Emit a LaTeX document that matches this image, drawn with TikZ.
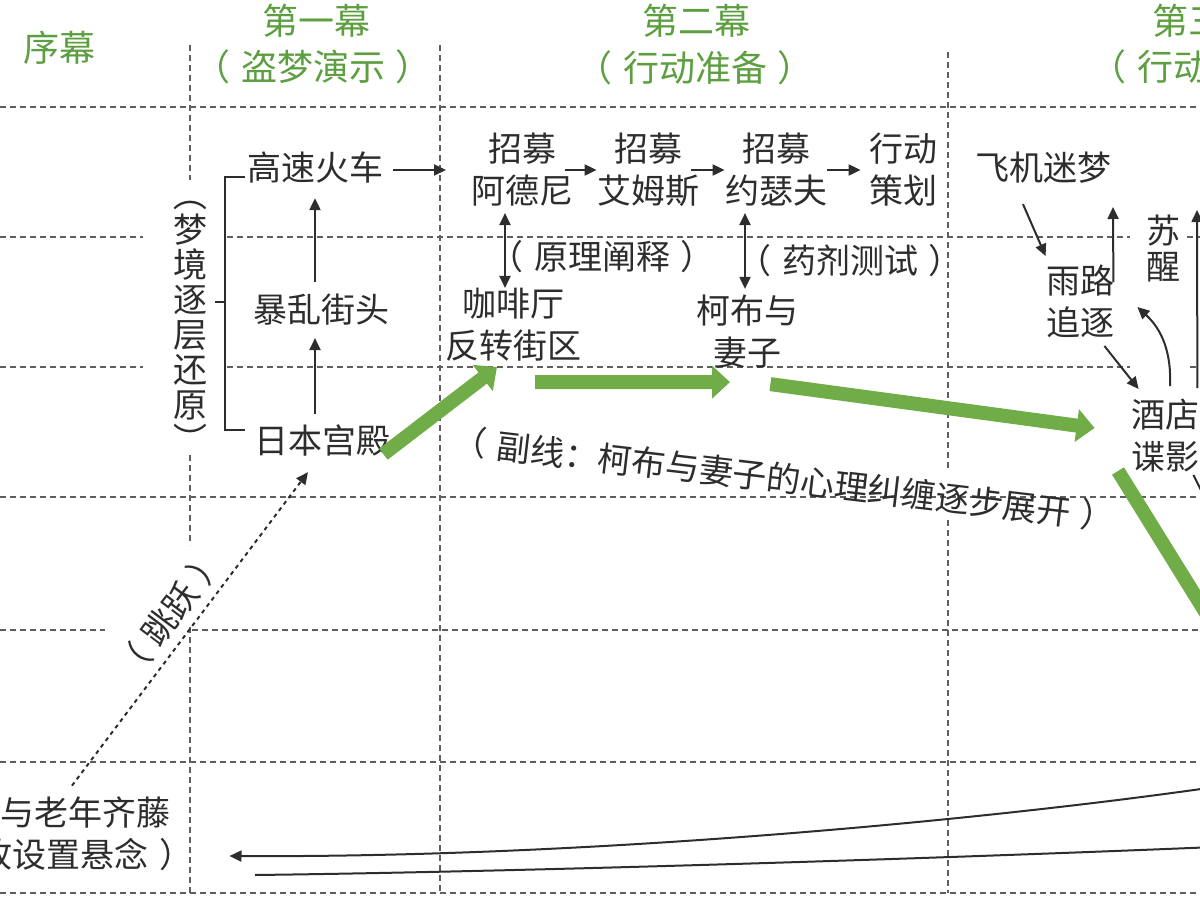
\documentclass[tikz,border=0pt]{standalone}
\usepackage{fontspec}
\usepackage{graphicx}
\setmainfont{Noto Sans CJK SC}
\usetikzlibrary{arrows.meta}
\definecolor{actgreen}{RGB}{92,158,64}
\definecolor{plotgreen}{RGB}{112,172,72}
\definecolor{inkgray}{RGB}{45,45,45}
\definecolor{gridgray}{RGB}{95,95,95}
\newcommand{\openparen}{（\hspace{0.3em}}
\newcommand{\closeparen}{\hspace{0.3em}）}
\newcommand{\vopen}{\rotatebox[origin=c]{-90}{（}}
\newcommand{\vclose}{\rotatebox[origin=c]{-90}{）}}
\tikzset{
  scene/.style={align=center, inner sep=0pt, text=inkgray, font=\fontsize{17}{21}\selectfont},
  vtext/.style={scene, font=\fontsize{17}{17.5}\selectfont},
  act/.style={align=center, inner sep=0pt, text=actgreen, font=\fontsize{18}{22}\selectfont},
  gridline/.style={gridgray, line width=0.8pt, dash pattern=on 3pt off 2pt},
  link/.style={inkgray, line width=1pt, -{Triangle[length=6pt,width=5.5pt]}},
  dlink/.style={link, {Triangle[length=6pt,width=5.5pt]}-{Triangle[length=6pt,width=5.5pt]}},
  jump/.style={link, dash pattern=on 2pt off 2pt},
  mainline/.style={plotgreen, line width=7pt, -{Triangle[length=9pt,width=16pt]}},
}
\begin{document}
\begin{tikzpicture}[x=0.5pt, y=-0.5pt]
  \useasboundingbox (0,0) rectangle (1200,900);
  \clip (0,0) rectangle (1200,900);
  \foreach \y in {107,497,762,893}
    \draw[gridline] (0,\y) -- (1200,\y);
  \draw[gridline] (0,237) -- (143,237) (227,237) -- (1130,237) (1187,237) -- (1200,237);
  \draw[gridline] (0,367) -- (143,367) (227,367) -- (1130,367) (1190,367) -- (1200,367);
  \draw[gridline] (0,630) -- (105,630) (192,630) -- (1200,630);
  \draw[gridline] (190,45) -- (190,180) (190,455) -- (190,545) (190,627) -- (190,893);
  \draw[gridline] (440,45) -- (440,893);
  \draw[gridline] (948,52) -- (948,470) (948,520) -- (948,893);
  \path
    (60,48) node[act] (prologue) {序幕}
    (316,21) node[act] (actone) {第一幕}
    (313,67) node[act] (actonesub) {\openparen 盗梦演示\closeparen}
    (696,21) node[act] (acttwo) {第二幕}
    (695,68) node[act] (acttwosub) {\openparen 行动准备\closeparen}
    (1152,21) node[act, anchor=west] (actthree) {第三幕}
    (1090,67) node[act, anchor=west] (actthreesub) {\openparen 行动};
  \path
    (315,168) node[scene] (train) {高速火车}
    (321,310) node[scene] (riot) {暴乱街头}
    (322,440) node[scene] (palace) {日本宫殿}
    (522,170) node[scene] (ariadne) {招募\\阿德尼}
    (648,170) node[scene] (eames) {招募\\艾姆斯}
    (776,170) node[scene] (yusuf) {招募\\约瑟夫}
    (903,170) node[scene] (plan) {行动\\策划}
    (513,325) node[scene] (cafe) {咖啡厅\\反转街区}
    (747,332) node[scene] (mal) {柯布与\\妻子}
    (1043,168) node[scene] (plane) {飞机迷梦}
    (1080,301) node[scene] (chase) {雨路\\追逐}
    (1163,248) node[vtext, font=\fontsize{17}{18}\selectfont] (wake) {苏\\醒}
    (1165,436) node[scene] (hotel) {酒店\\谍影}
    (86,834) node[scene] (reunion) {与老年齐藤\\故设置悬念\closeparen}
    (190,317) node[vtext] (lbldream) {\vopen\\梦\\境\\逐\\层\\还\\原\\\vclose}
    (602,257) node[scene] (lbltheory) {\openparen 原理阐释\closeparen}
    (850,261) node[scene] (lbltest) {\openparen 药剂测试\closeparen}
    (784,479) node[scene, rotate=-6.7] (lblsub) {\openparen 副线：柯布与妻子的心理纠缠逐步展开\closeparen};
  \coordinate (toacttwo) at (446,170);
  \coordinate (wakeup) at (1113,207);
  \coordinate (wakeout) at (1197,210);
  \coordinate (kickout) at (1212,512);
  \coordinate (greenout) at (1240,668);
  \coordinate (backin) at (1215,787);
  \coordinate (lowin) at (1215,847);
  \coordinate (lowend) at (255,875);
  \draw[inkgray, line width=1pt] ([shift={(-2,9)}]train.west) -| (225,302) |- ([shift={(-9,-10)}]palace.west)
    (215,302) -- (225,302);
  \begin{scope}[link]
    \draw ([shift={(10,2)}]train.east) -- (toacttwo);
    \draw[shorten <=6pt, shorten >=7pt] (riot.north -| train.south) -- (train.south);
    \draw[shorten <=5pt, shorten >=6pt] (palace.north -| train.south) -- (riot.south -| train.south);
    \draw[shorten <=-4pt] (ariadne) -- (eames);
    \draw[shorten <=-4pt] (eames) -- (yusuf);
    \draw[shorten >=4pt] (yusuf) -- (plan);
    \draw[dlink, shorten <=3pt] ([shift={(-17,0)}]ariadne.south) -- ([shift={(-17,0)}]ariadne.south |- cafe.north);
    \draw[dlink, shorten <=3pt, shorten >=3pt] ([shift={(-31,0)}]yusuf.south) -- ([shift={(-31,0)}]yusuf.south |- mal.north);
    \draw ([shift={(-20,20)}]plane.south) -- ([shift={(0,-8)}]chase.north west);
    \draw ([shift={(-1,-19)}]chase.east) -- (wakeup);
    \draw ([shift={(-10,8)}]chase.south east) -- ([shift={(8,-10)}]hotel.north west);
    \draw ([shift={(5,-13)}]hotel.north) to[bend right=25] ([shift={(23,6)}]chase.east);
    \draw ([shift={(-2,-11)}]hotel.north east) -- (wakeout);
    \draw[-] ([shift={(-6,2)}]hotel.south east) -- (kickout);
    \draw[jump] ([shift={(-14,-11)}]reunion.north) -- node[scene, sloped, above=4pt] (lbljump) {\openparen 跳跃\closeparen} ([shift={(-14,16)}]palace.south);
    \draw (backin) .. controls (1000,818) and (600,858) .. ([shift={(36,22)}]reunion.east);
    \draw[-] (lowin) .. controls (900,860) and (500,872) .. (lowend);
  \end{scope}
  \begin{scope}[mainline]
    \draw ([shift={(-7,-2)}]palace.south east) -- ([shift={(-16,5)}]cafe.south);
    \draw ([shift={(22,20)}]cafe.south) -- ([shift={(-17,13)}]mal.south);
    \draw ([shift={(-28,15)}]mal.south east) -- ([shift={(-36,-8)}]hotel.west);
    \draw[-] ([shift={(-47,-2)}]hotel.south) -- (greenout);
  \end{scope}
\end{tikzpicture}
\end{document}
